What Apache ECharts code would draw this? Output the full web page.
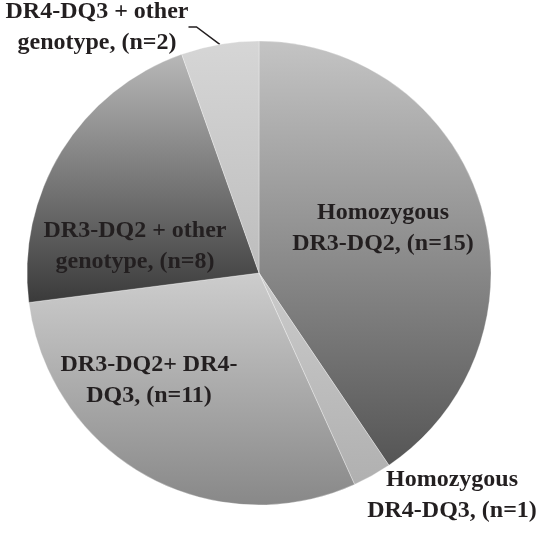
<!DOCTYPE html>
<html lang="en">
<head>
    <meta charset="UTF-8">
    <title>pie</title>
    <script src="https://cdn.jsdelivr.net/npm/echarts@6/dist/echarts.min.js"></script>
</head>
<body style="margin:0;background:#fff;">
    <div id="chart" style="width:537px;height:536px;"></div>
</body>
<script>
    // genotype groups, clockwise from 12 o'clock
    const names = [
        'Homozygous\nDR3-DQ2, (n=15)',
        'Homozygous\nDR4-DQ3, (n=1)',
        'DR3-DQ2+ DR4-\nDQ3, (n=11)',
        'DR3-DQ2 + other\ngenotype, (n=8)',
        'DR4-DQ3 + other\ngenotype, (n=2)'
    ];
    const counts = [15, 1, 11, 8, 2];

    // gradient top / bottom greys per slice
    const topColors = ['#c4c4c4', '#cbcbcb', '#cdcdcd', '#b8b8b8', '#d6d6d6'];
    const bottomColors = ['#555555', '#b0b0b0', '#888888', '#3a3a3a', '#bdbdbd'];
    // where each label sits (px)
    const labelPos = [[383, 228], [452, 495], [149, 380], [135, 246], [97, 27]];
    const labelInside = [true, false, true, true, false];

    var chart = echarts.init(document.getElementById('chart'));

    var data = counts.map((v, i) => ({
        name: names[i],
        value: v,
        itemStyle: {
            color: new echarts.graphic.LinearGradient(0, 0, 0, 1, [
                { offset: 0, color: topColors[i] },
                { offset: 1, color: bottomColors[i] }
            ])
        },
        label: {
            position: labelInside[i] ? 'inside' : 'outside'
        },
        labelLine: { show: i == 4 }
    }));

    var option = {
        animation: false,
        backgroundColor: '#ffffff',
        series: [{
            type: 'pie',
            center: [259, 273],
            radius: 232,
            startAngle: 90,
            clockwise: true,
            data: data,
            itemStyle: {
                borderColor: 'rgba(255,255,255,0.5)',
                borderWidth: 0.6
            },
            label: {
                show: true,
                formatter: '{b}',
                fontFamily: 'Liberation Serif',
                fontWeight: 'bold',
                fontSize: 24,
                lineHeight: 31,
                color: '#231f20',
                align: 'center',
                overflow: 'none'
            },
            labelLine: {
                lineStyle: { color: '#231f20', width: 1.5 },
                length: 25,
                length2: 8
            },
            labelLayout: function (params) {
                var p = labelPos[params.dataIndex];
                var out = {
                    x: p[0],
                    y: p[1],
                    align: 'center',
                    verticalAlign: 'middle'
                };
                if (params.dataIndex == 1) out.width = 220;
                return out;
            }
        }]
    };
    chart.setOption(option);
</script>
</html>
